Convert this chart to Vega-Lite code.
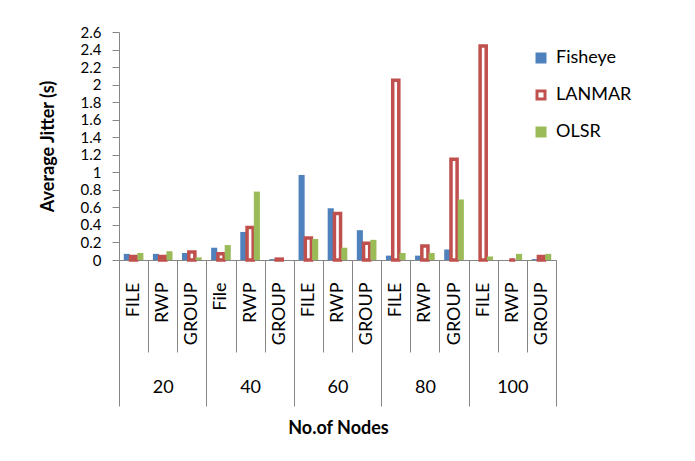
{
  "$schema": "https://vega.github.io/schema/vega-lite/v6.json",
  "width": 437,
  "height": 228,
  "autosize": {"type": "none"},
  "padding": {"left": 119, "top": 32, "right": 139, "bottom": 201},
  "background": "white",
  "config": {
    "font": "Lato",
    "view": {"stroke": null},
    "axis": {"grid": false, "domainColor": "#868686", "tickColor": "#868686", "labelColor": "#000000", "titleColor": "#000000", "labelFont": "Lato", "titleFont": "Lato"}
  },
  "layer": [
    {
      "data": {
        "values": [
          {"cat": "20|FILE", "series": "Fisheye", "value": 0.07},
          {"cat": "20|FILE", "series": "LANMAR", "value": 0.04},
          {"cat": "20|FILE", "series": "OLSR", "value": 0.08},
          {"cat": "20|RWP", "series": "Fisheye", "value": 0.07},
          {"cat": "20|RWP", "series": "LANMAR", "value": 0.04},
          {"cat": "20|RWP", "series": "OLSR", "value": 0.1},
          {"cat": "20|GROUP", "series": "Fisheye", "value": 0.08},
          {"cat": "20|GROUP", "series": "LANMAR", "value": 0.09},
          {"cat": "20|GROUP", "series": "OLSR", "value": 0.03},
          {"cat": "40|File", "series": "Fisheye", "value": 0.14},
          {"cat": "40|File", "series": "LANMAR", "value": 0.07},
          {"cat": "40|File", "series": "OLSR", "value": 0.17},
          {"cat": "40|RWP", "series": "Fisheye", "value": 0.32},
          {"cat": "40|RWP", "series": "LANMAR", "value": 0.37},
          {"cat": "40|RWP", "series": "OLSR", "value": 0.78},
          {"cat": "40|GROUP", "series": "Fisheye", "value": 0.01},
          {"cat": "40|GROUP", "series": "LANMAR", "value": 0.01},
          {"cat": "40|GROUP", "series": "OLSR", "value": 0},
          {"cat": "60|FILE", "series": "Fisheye", "value": 0.97},
          {"cat": "60|FILE", "series": "LANMAR", "value": 0.25},
          {"cat": "60|FILE", "series": "OLSR", "value": 0.24},
          {"cat": "60|RWP", "series": "Fisheye", "value": 0.59},
          {"cat": "60|RWP", "series": "LANMAR", "value": 0.53},
          {"cat": "60|RWP", "series": "OLSR", "value": 0.14},
          {"cat": "60|GROUP", "series": "Fisheye", "value": 0.34},
          {"cat": "60|GROUP", "series": "LANMAR", "value": 0.19},
          {"cat": "60|GROUP", "series": "OLSR", "value": 0.23},
          {"cat": "80|FILE", "series": "Fisheye", "value": 0.05},
          {"cat": "80|FILE", "series": "LANMAR", "value": 2.05},
          {"cat": "80|FILE", "series": "OLSR", "value": 0.08},
          {"cat": "80|RWP", "series": "Fisheye", "value": 0.05},
          {"cat": "80|RWP", "series": "LANMAR", "value": 0.16},
          {"cat": "80|RWP", "series": "OLSR", "value": 0.08},
          {"cat": "80|GROUP", "series": "Fisheye", "value": 0.12},
          {"cat": "80|GROUP", "series": "LANMAR", "value": 1.15},
          {"cat": "80|GROUP", "series": "OLSR", "value": 0.69},
          {"cat": "100|FILE", "series": "Fisheye", "value": 0},
          {"cat": "100|FILE", "series": "LANMAR", "value": 2.44},
          {"cat": "100|FILE", "series": "OLSR", "value": 0.04},
          {"cat": "100|RWP", "series": "Fisheye", "value": 0},
          {"cat": "100|RWP", "series": "LANMAR", "value": 0},
          {"cat": "100|RWP", "series": "OLSR", "value": 0.07},
          {"cat": "100|GROUP", "series": "Fisheye", "value": 0.01},
          {"cat": "100|GROUP", "series": "LANMAR", "value": 0.04},
          {"cat": "100|GROUP", "series": "OLSR", "value": 0.07}
        ]
      },
      "mark": {"type": "bar"},
      "encoding": {
        "x": {
          "field": "cat",
          "type": "nominal",
          "sort": null,
          "scale": {"paddingInner": 0, "paddingOuter": 0},
          "axis": {
            "orient": "bottom",
            "title": null,
            "tickBand": "extent",
            "tickSize": 92,
            "labelAngle": 270,
            "labelPadding": -70,
            "labelFontSize": 18,
            "labelOverlap": false,
            "labelExpr": "split(datum.label, '|')[1]"
          }
        },
        "xOffset": {
          "field": "series",
          "type": "nominal",
          "sort": ["Fisheye", "LANMAR", "OLSR"],
          "scale": {"paddingOuter": 0.7, "paddingInner": 0.1}
        },
        "y": {
          "field": "value",
          "type": "quantitative",
          "scale": {"domain": [0, 2.6], "nice": false},
          "axis": {
            "values": [0, 0.2, 0.4, 0.6, 0.8, 1, 1.2, 1.4, 1.6, 1.8, 2, 2.2, 2.4, 2.6],
            "format": "~g",
            "tickSize": 7,
            "labelPadding": 11,
            "labelFontSize": 15,
            "labelOverlap": false,
            "title": "Average Jitter (s)",
            "titleFontSize": 18,
            "titleFontWeight": "bold",
            "titleAngle": 270,
            "titleAlign": "center",
            "titleBaseline": "middle",
            "titleX": -71,
            "titleY": 114
          }
        },
        "fill": {
          "field": "series",
          "type": "nominal",
          "sort": ["Fisheye", "LANMAR", "OLSR"],
          "scale": {"domain": ["Fisheye", "LANMAR", "OLSR"], "range": ["#4F81BD", "#FFFFFF", "#9BBB59"]},
          "legend": {
            "title": null,
            "orient": "none",
            "legendX": 413,
            "legendY": 17,
            "padding": 0,
            "symbolType": "square",
            "symbolSize": 64,
            "symbolStrokeWidth": 3,
            "labelFontSize": 18,
            "labelColor": "#000000",
            "labelOffset": 6,
            "rowPadding": 17
          }
        },
        "stroke": {
          "field": "series",
          "type": "nominal",
          "sort": ["Fisheye", "LANMAR", "OLSR"],
          "scale": {"domain": ["Fisheye", "LANMAR", "OLSR"], "range": ["#4F81BD", "#C0504D", "#9BBB59"]}
        },
        "strokeWidth": {
          "condition": {"test": "datum.series === 'LANMAR'", "value": 3.5},
          "value": 0
        }
      }
    },
    {
      "data": {
        "values": [
          {"nodes": "20"},
          {"nodes": "40"},
          {"nodes": "60"},
          {"nodes": "80"},
          {"nodes": "100"}
        ]
      },
      "mark": {"type": "rule", "strokeOpacity": 0},
      "encoding": {
        "x": {
          "field": "nodes",
          "type": "nominal",
          "sort": ["20", "40", "60", "80", "100"],
          "scale": {"paddingInner": 0, "paddingOuter": 0},
          "axis": {
            "orient": "bottom",
            "domain": false,
            "tickBand": "extent",
            "tickSize": 146,
            "labelAngle": 0,
            "labelPadding": -28,
            "labelFontSize": 18,
            "title": "No.of Nodes",
            "titleFontSize": 18,
            "titleFontWeight": "bold",
            "titleBaseline": "middle",
            "titleAlign": "center",
            "titleX": 219,
            "titleY": 168
          }
        }
      }
    }
  ],
  "resolve": {"scale": {"x": "independent"}, "axis": {"x": "independent"}}
}
